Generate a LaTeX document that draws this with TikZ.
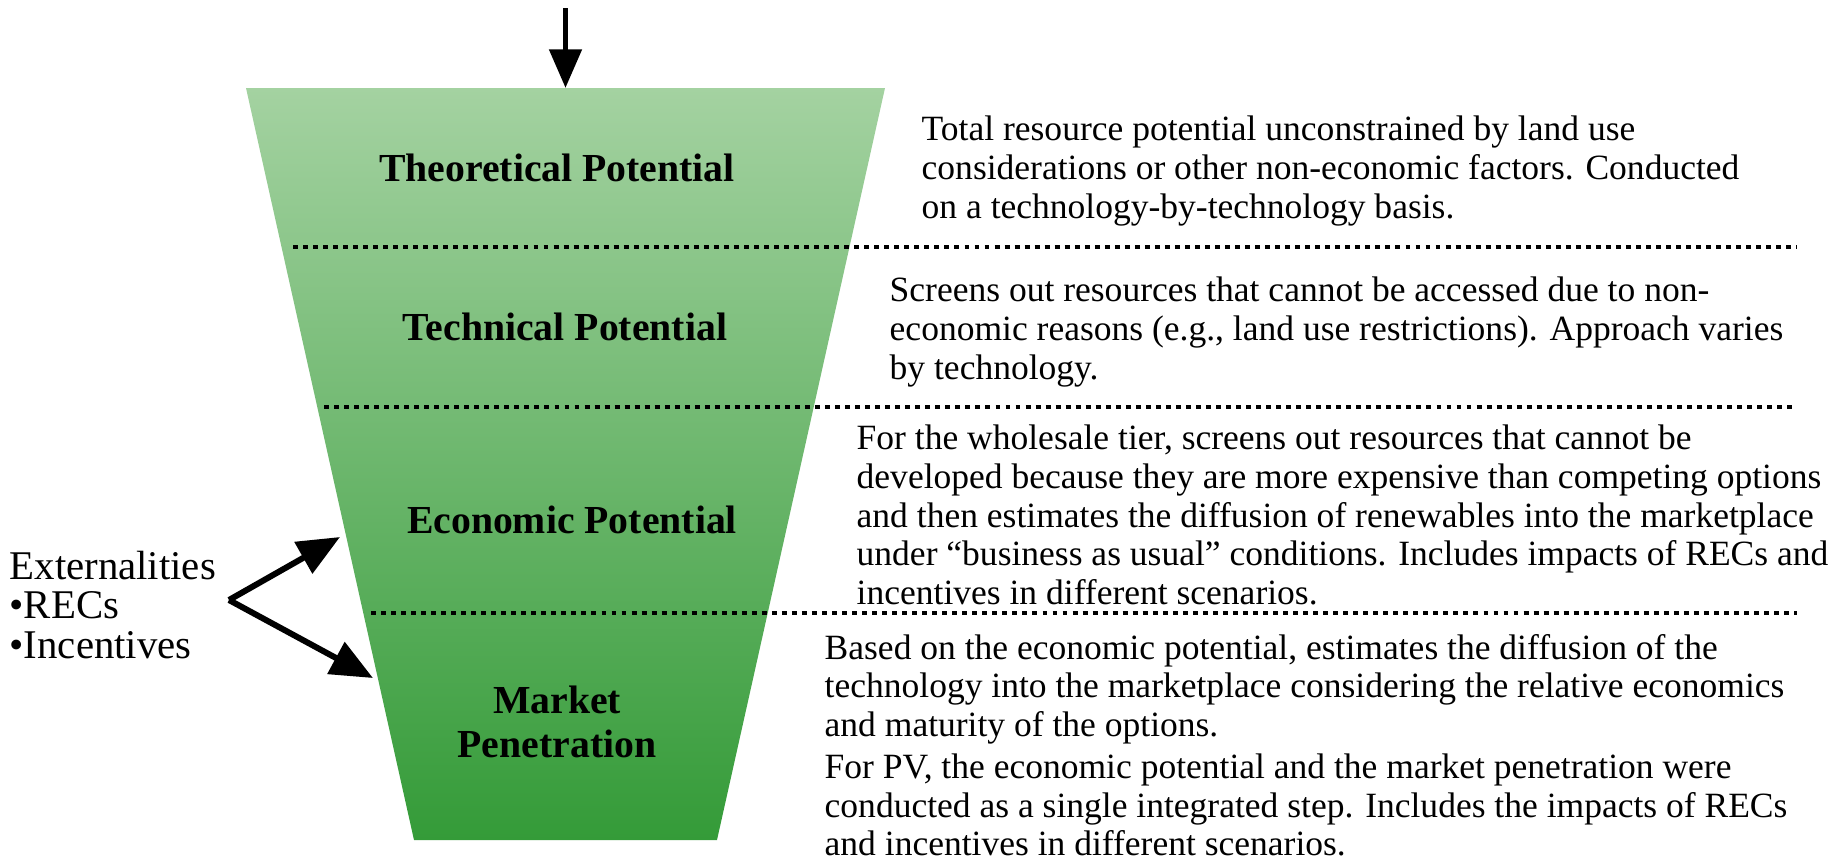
\documentclass[tikz,border=0pt]{standalone}
\usepackage{fontspec}
\setmainfont{Liberation Serif}
\usetikzlibrary{arrows.meta}
\definecolor{funtop}{RGB}{164,210,161}
\definecolor{funbot}{RGB}{52,155,56}
\tikzset{%
  myarrow/.style={-{Triangle[width=9pt,length=11pt]}, line width=1.7pt},
  mysep/.style={line width=1.4pt, dash pattern=on 1.4pt off 1.45pt},
  mystage/.style={font=\fontsize{11.3}{12.7}\selectfont\bfseries, align=center},
  mydesc/.style={font=\fontsize{10.1}{11}\selectfont, align=left, anchor=west, inner sep=0pt}
}

\begin{document}
\begin{tikzpicture}[x=0.01cm,y=-0.01cm]
  \useasboundingbox (0,0) rectangle (1839,863);

\coordinate (TL) at (246,88);
\coordinate (TR) at (885,88);
\coordinate (BL) at (414,840);
\coordinate (BR) at (717,840);
\coordinate (TM) at (565.5,88);
\coordinate (in) at (565.5,8);

% 漏斗
\shade [top color=funtop, bottom color=funbot] (TL) -- (TR) -- (BR) -- (BL) -- cycle;

% 区切り線
\foreach \y/\xa in {247/293, 407/324, 613/371} {
  \draw [mysep] (\xa,\y) -- (1797,\y);
}

\draw [myarrow] (in) -- (TM);

\node [mystage] (theo) at (557,168) {Theoretical Potential};
\node [mystage] (tech) at (565,327) {Technical Potential};
\node [mystage] (econ) at (572,520) {Economic Potential};
\node [mystage] (mark) at (557,722) {Market\\Penetration};

\node [mydesc] (theod) at (921,171) {Total resource potential unconstrained by land use\\considerations or other non-economic factors. Conducted\\on a technology-by-technology basis.};
\node [mydesc] (techd) at (889,332) {Screens out resources that cannot be accessed due to non-\\economic reasons (e.g., land use restrictions). Approach varies\\by technology.};
\node [mydesc] (econd) at (856,515) {For the wholesale tier, screens out resources that cannot be\\developed because they are more expensive than competing options\\and then estimates the diffusion of renewables into the marketplace\\under “business as usual” conditions. Includes impacts of RECs and\\incentives in different scenarios.};
\node [mydesc] (markd) at (824,689) {Based on the economic potential, estimates the diffusion of the\\technology into the marketplace considering the relative economics\\and maturity of the options.};
\node [mydesc] (pvd) at (824,805) {For PV, the economic potential and the market penetration were\\conducted as a single integrated step. Includes the impacts of RECs\\and incentives in different scenarios.};

\node [mydesc, font=\fontsize{11.6}{11.2}\selectfont] (ext) at (9,605) {Externalities\\•RECs\\•Incentives};

\coordinate (fork) at (229,600);
\draw [myarrow, -{Triangle[width=10pt,length=12pt]}] (fork) -- (340,537);
\draw [myarrow, -{Triangle[width=10pt,length=12pt]}] (fork) -- (373,678);
\end{tikzpicture}
\end{document}
